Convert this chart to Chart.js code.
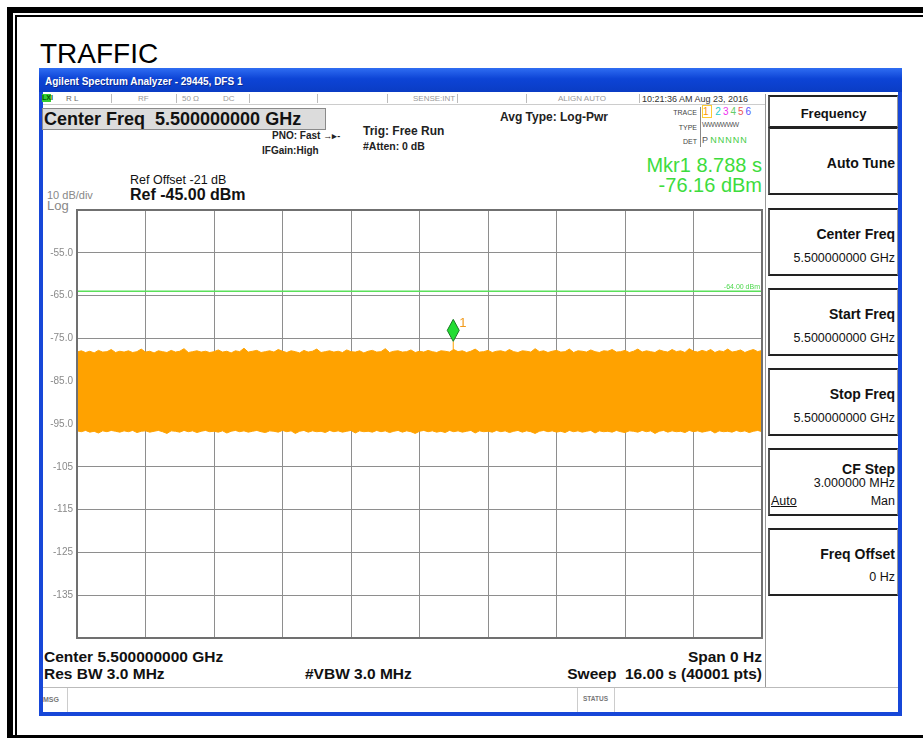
<!DOCTYPE html>
<html>
<head>
<meta charset="utf-8">
<script src="https://cdn.jsdelivr.net/npm/chart.js@4.4.1/dist/chart.umd.min.js"></script>
<style>
  html,body{margin:0;padding:0;background:#fff;width:923px;height:738px;overflow:hidden;font-family:Arial,"Liberation Sans",sans-serif;}
  .a{position:absolute;line-height:1;white-space:nowrap;}
  #frameO{position:absolute;left:7px;top:7px;width:940px;height:722px;border:6px solid #000;}
  #frameI{position:absolute;left:15px;top:15px;width:930px;height:740px;border-left:2px solid #000;border-top:2px solid #000;}
  #win{position:absolute;left:39px;top:68px;width:863px;height:648px;background:#1747d8;}
  #inner{position:absolute;left:43px;top:92px;width:855px;height:620px;background:#fff;}
  #title{position:absolute;left:39px;top:68px;width:863px;height:24px;background:linear-gradient(#2f6df2,#0d44d6 45%,#0a3cc4);}
  .cell{position:absolute;top:94px;height:9px;border-right:1px solid #bbb;}
  .st{font-size:8px;color:#999;}
  .btn{position:absolute;left:768px;width:127px;border-top:2px solid #222;border-bottom:2px solid #222;border-left:2px solid #555;border-right:1px solid #999;background:#fff;}
  .bt{position:absolute;right:2px;font-weight:bold;font-size:14px;line-height:1;color:#111;white-space:nowrap;}
  .bv{position:absolute;right:2px;font-size:12.5px;line-height:1;color:#111;white-space:nowrap;}
  #chartBox{position:absolute;left:35px;top:200px;width:732px;height:448px;}
</style>
</head>
<body>
<div id="frameO"></div>
<div id="frameI"></div>
<div class="a" style="left:40px;top:40px;font-size:28px;color:#000;">TRAFFIC</div>

<div id="win"></div>
<div id="inner"></div>
<div id="title"></div>
<div class="a" style="left:45px;top:77px;font-size:10px;font-weight:bold;color:#fff;text-shadow:1px 1px 0 #0a2a90;">Agilent Spectrum Analyzer - 29445, DFS 1</div>

<!-- status row -->
<div style="position:absolute;left:43px;top:93px;width:722px;height:11px;border-bottom:1px solid #ccc;"></div>
<div class="a" style="left:42px;top:94px;width:9px;height:8px;background:#3c3;font-size:7px;font-weight:bold;color:#050;">LXI</div>
<div class="a st" style="left:66px;top:95px;color:#666;">R L</div>
<div class="cell" style="left:111px;"></div>
<div class="a st" style="left:138px;top:95px;">RF</div>
<div class="cell" style="left:176px;"></div>
<div class="a st" style="left:182px;top:95px;">50 Ω</div>
<div class="a st" style="left:223px;top:95px;">DC</div>
<div class="cell" style="left:249px;"></div>
<div class="cell" style="left:317px;"></div>
<div class="cell" style="left:387px;"></div>
<div class="a st" style="left:413px;top:95px;">SENSE:INT</div>
<div class="cell" style="left:457px;"></div>
<div class="cell" style="left:526px;"></div>
<div class="a st" style="left:558px;top:95px;">ALIGN AUTO</div>
<div class="cell" style="left:639px;"></div>
<div class="a" style="left:642px;top:95px;font-size:9px;color:#333;">10:21:36 AM Aug 23, 2016</div>

<!-- header texts -->
<div style="position:absolute;left:42px;top:108px;width:282px;height:20px;background:#dcdcdc;border:1px solid #8a8a8a;"></div>
<div class="a" style="left:44px;top:110px;font-size:18px;font-weight:bold;color:#111;">Center Freq&nbsp;&nbsp;5.500000000 GHz</div>
<div class="a" style="left:272px;top:131px;font-size:10px;font-weight:bold;color:#222;">PNO: Fast <span style="font-size:9px">→▸-</span></div>
<div class="a" style="left:262px;top:146px;font-size:10px;font-weight:bold;color:#222;">IFGain:High</div>
<div class="a" style="left:363px;top:125px;font-size:12px;font-weight:bold;color:#222;">Trig: Free Run</div>
<div class="a" style="left:363px;top:141px;font-size:10.5px;font-weight:bold;color:#222;">#Atten: 0 dB</div>
<div class="a" style="left:500px;top:111px;font-size:12px;font-weight:bold;color:#222;">Avg Type: Log-Pwr</div>

<div class="a" style="right:226px;top:109px;font-size:7px;color:#444;">TRACE</div>
<div class="a" style="right:226px;top:124px;font-size:7px;color:#444;">TYPE</div>
<div class="a" style="right:226px;top:138px;font-size:7px;color:#444;">DET</div>
<div style="position:absolute;left:700px;top:107px;width:1px;height:40px;background:#888;"></div>
<div class="a" style="left:703px;top:107px;font-size:10px;letter-spacing:2px;"><span style="color:#f90;outline:1px solid #fc3;">1</span> <span style="color:#2cc">2</span><span style="color:#e3e">3</span><span style="color:#6c6">4</span><span style="color:#e55">5</span><span style="color:#55f">6</span></div>
<div class="a" style="left:702px;top:121px;font-size:7px;color:#555;letter-spacing:-0.5px;">WWWWWW</div>
<div class="a" style="left:702px;top:136px;font-size:9px;color:#555;">P <span style="color:#4c4;letter-spacing:1px;">NNNNN</span></div>

<div class="a" style="right:161px;top:155px;font-size:20px;color:#3ddc3d;">Mkr1 8.788 s</div>
<div class="a" style="right:161px;top:175px;font-size:20px;color:#3ddc3d;">-76.16 dBm</div>

<div class="a" style="left:130px;top:174px;font-size:12.5px;color:#111;">Ref Offset -21 dB</div>
<div class="a" style="left:130px;top:187px;font-size:16px;font-weight:bold;color:#111;">Ref -45.00 dBm</div>
<div class="a" style="left:47px;top:190px;font-size:11px;color:#888;">10 dB/div</div>
<div class="a" style="left:47px;top:199px;font-size:13px;color:#888;">Log</div>

<!-- right panel -->
<div style="position:absolute;left:765px;top:94px;width:1px;height:594px;background:#999;"></div>
<div class="btn" style="top:95px;height:29px;"><div class="a" style="left:0;right:0;top:10px;text-align:center;font-size:13px;font-weight:bold;color:#111;">Frequency</div></div>
<div class="btn" style="top:127px;height:64px;"><div class="bt" style="top:27px;">Auto Tune</div></div>
<div class="btn" style="top:208px;height:64px;"><div class="bt" style="top:17px;">Center Freq</div><div class="bv" style="top:42px;">5.500000000 GHz</div></div>
<div class="btn" style="top:288px;height:64px;"><div class="bt" style="top:17px;">Start Freq</div><div class="bv" style="top:42px;">5.500000000 GHz</div></div>
<div class="btn" style="top:368px;height:64px;"><div class="bt" style="top:17px;">Stop Freq</div><div class="bv" style="top:42px;">5.500000000 GHz</div></div>
<div class="btn" style="top:448px;height:64px;"><div class="bt" style="top:12px;">CF Step</div><div class="bv" style="top:27px;">3.000000 MHz</div><div class="bv" style="top:45px;">Man</div><div class="bv" style="left:1px;right:auto;top:45px;text-decoration:underline;">Auto</div></div>
<div class="btn" style="top:528px;height:64px;"><div class="bt" style="top:17px;">Freq Offset</div><div class="bv" style="top:41px;">0 Hz</div></div>

<!-- bottom texts -->
<div class="a" style="left:44px;top:649px;font-size:15.5px;font-weight:bold;color:#111;">Center 5.500000000 GHz</div>
<div class="a" style="left:44px;top:666px;font-size:15.5px;font-weight:bold;color:#111;">Res BW 3.0 MHz</div>
<div class="a" style="left:305px;top:666px;font-size:15.5px;font-weight:bold;color:#111;">#VBW 3.0 MHz</div>
<div class="a" style="right:161px;top:649px;font-size:15.5px;font-weight:bold;color:#111;">Span 0 Hz</div>
<div class="a" style="right:161px;top:666px;font-size:15.5px;font-weight:bold;color:#111;">Sweep&nbsp;&nbsp;16.00 s (40001 pts)</div>

<div style="position:absolute;left:43px;top:687px;width:855px;height:1px;background:#bbb;"></div>
<div class="a" style="left:43px;top:696px;font-size:7px;font-weight:bold;color:#777;">MSG</div>
<div style="position:absolute;left:67px;top:688px;width:1px;height:24px;background:#ccc;"></div>
<div style="position:absolute;left:577px;top:688px;width:1px;height:24px;background:#ccc;"></div>
<div style="position:absolute;left:614px;top:688px;width:1px;height:24px;background:#ccc;"></div>
<div class="a" style="left:583px;top:696px;font-size:6.5px;font-weight:bold;color:#777;">STATUS</div>

<div id="chartBox"><canvas id="c" width="732" height="448"></canvas></div>

<script>
// ---- data ----
const sweepSeconds = 16;               // Sweep 16.00 s, Span 0 Hz
const refLevel = -45;                  // Ref -45.00 dBm
const bottomLevel = -145;              // 10 dB/div, 10 divisions
const yTickValues = [-55, -65, -75, -85, -95, -105, -115, -125, -135];
const yTickLabels = ['-55.0', '-65.0', '-75.0', '-85.0', '-95.0', '-105', '-115', '-125', '-135'];
const limitLevel = -64;                // display line -64.00 dBm
const limitLabel = '-64.00 dBm';
const markerTime = 8.788;              // Mkr1 8.788 s
const markerLevel = -76.16;            // -76.16 dBm
const markerName = '1';

// upper envelope of trace 1 (dBm), sampled every 0.1 s
const traceUpper = [
-78.2,-77.9,-78.3,-78.0,-78.4,-77.8,-78.2,-78.1,-77.6,-78.3,
-78.0,-78.2,-77.9,-78.3,-78.1,-77.5,-78.2,-78.0,-78.4,-77.9,
-78.1,-78.3,-77.8,-78.2,-78.0,-77.4,-78.3,-78.1,-77.9,-78.2,
-78.0,-78.3,-78.1,-77.7,-78.2,-78.0,-78.4,-77.9,-78.1,-77.3,
-78.2,-78.0,-77.8,-78.3,-78.1,-77.9,-78.2,-77.6,-78.0,-78.3,
-77.9,-78.1,-78.4,-77.8,-78.2,-78.0,-77.5,-78.3,-78.1,-77.9,
-78.2,-78.0,-78.3,-77.7,-78.1,-78.2,-77.9,-78.4,-78.0,-77.8,
-78.2,-78.1,-77.4,-78.3,-78.0,-77.9,-78.2,-78.1,-77.7,-78.3,
-78.0,-78.2,-77.8,-78.1,-78.3,-77.9,-78.0,-78.2,-77.6,-78.1,
-77.9,-78.3,-78.0,-77.5,-78.2,-78.1,-77.8,-78.3,-78.0,-77.9,
-78.2,-77.6,-78.1,-78.3,-77.9,-78.0,-78.2,-77.4,-78.1,-77.9,
-78.3,-78.0,-77.8,-78.2,-78.1,-77.5,-78.3,-77.9,-78.0,-78.2,
-77.7,-78.1,-78.3,-77.9,-78.0,-77.6,-78.2,-78.1,-77.8,-78.3,
-78.0,-77.5,-78.2,-77.9,-78.1,-78.3,-77.7,-78.0,-78.2,-77.6,
-78.1,-77.9,-78.3,-77.4,-78.0,-78.2,-77.8,-78.1,-77.6,-78.3,
-77.9,-78.1,-77.5,-78.2,-78.0,-77.7,-78.3,-77.9,-77.6,-78.1,
-77.8];

// lower envelope of trace 1 (dBm), sampled every 0.1 s
const traceLower = [
-96.6,-96.8,-96.5,-96.9,-96.7,-97.1,-96.6,-96.8,-96.5,-96.7,
-96.9,-96.6,-96.8,-96.5,-97.0,-96.7,-96.6,-96.9,-96.7,-96.5,
-96.8,-97.2,-96.6,-96.7,-96.9,-96.5,-96.8,-96.6,-97.0,-96.7,
-96.5,-96.8,-96.7,-96.9,-96.6,-97.1,-96.7,-96.5,-96.8,-96.6,
-96.9,-96.7,-96.5,-96.8,-97.0,-96.6,-96.7,-96.9,-96.5,-96.8,
-96.6,-97.2,-96.7,-96.5,-96.9,-96.6,-96.8,-96.7,-97.0,-96.5,
-96.8,-96.6,-96.9,-96.7,-96.5,-97.1,-96.6,-96.8,-96.7,-96.9,
-96.5,-96.8,-96.6,-97.0,-96.7,-96.5,-96.9,-96.6,-96.8,-97.2,
-96.7,-96.5,-96.8,-96.6,-96.9,-96.7,-97.0,-96.5,-96.8,-96.6,
-96.9,-96.7,-96.5,-97.1,-96.6,-96.8,-96.7,-96.9,-96.5,-96.8,
-96.6,-97.0,-96.7,-96.5,-96.9,-96.6,-96.8,-97.2,-96.7,-96.5,
-96.8,-96.6,-96.9,-96.7,-97.0,-96.5,-96.8,-96.6,-96.9,-96.7,
-96.5,-97.1,-96.6,-96.8,-96.7,-96.9,-96.5,-96.8,-97.0,-96.6,
-96.7,-96.9,-96.5,-96.8,-96.6,-97.2,-96.7,-96.5,-96.9,-96.6,
-96.8,-96.7,-97.0,-96.5,-96.8,-96.6,-96.9,-96.7,-96.5,-97.1,
-96.6,-96.8,-96.7,-96.9,-96.5,-96.8,-96.6,-97.0,-96.7,-96.5,
-96.8];

// ---- build chart data ----
const toPoints = arr => arr.map((v, i) => ({x: i * sweepSeconds / (arr.length - 1), y: v}));
const TRACE = '#ffa200';
const GRID = '#8e8e8e';

const plotDecor = {
  id: 'plotDecor',
  afterDatasetsDraw(chart) {
    const {ctx, chartArea: a, scales} = chart;
    ctx.save();
    // display line label
    ctx.fillStyle = '#4cd84c';
    ctx.font = '7px Arial, "Liberation Sans", sans-serif';
    ctx.textAlign = 'right';
    ctx.textBaseline = 'bottom';
    ctx.fillText(limitLabel, a.right - 2, scales.y.getPixelForValue(limitLevel) - 1);
    // marker 1 diamond with its stem down to the trace
    const p = chart.getDatasetMeta(3).data[0];
    const tipY = p.y - 2;
    ctx.strokeStyle = TRACE; ctx.lineWidth = 1;
    ctx.beginPath(); ctx.moveTo(p.x, p.y + 7); ctx.lineTo(p.x, tipY); ctx.stroke();
    ctx.beginPath();
    ctx.moveTo(p.x, tipY);
    ctx.lineTo(p.x + 6, tipY - 11);
    ctx.lineTo(p.x, tipY - 22);
    ctx.lineTo(p.x - 6, tipY - 11);
    ctx.closePath();
    ctx.fillStyle = '#22dd33';
    ctx.fill();
    ctx.strokeStyle = '#1b7a25';
    ctx.stroke();
    ctx.fillStyle = '#f29a1a';
    ctx.font = '13px Arial, "Liberation Sans", sans-serif';
    ctx.textAlign = 'left';
    ctx.textBaseline = 'alphabetic';
    ctx.fillText(markerName, p.x + 6, tipY - 14);
    // plot frame
    ctx.strokeStyle = '#707070';
    ctx.lineWidth = 2;
    ctx.strokeRect(a.left, a.top, a.right - a.left, a.bottom - a.top);
    ctx.restore();
  }
};

new Chart(document.getElementById('c'), {
  type: 'line',
  data: {
    datasets: [
      {label: 'Trace 1 max', data: toPoints(traceUpper), borderColor: TRACE, borderWidth: 1, pointRadius: 0, fill: false, tension: 0, order: 3},
      {label: 'Trace 1 min', data: toPoints(traceLower), borderColor: TRACE, borderWidth: 1, pointRadius: 0, fill: '-1', backgroundColor: TRACE, tension: 0, order: 3},
      {label: 'Display line', data: [{x: 0, y: limitLevel}, {x: sweepSeconds, y: limitLevel}], borderColor: '#5ae05a', borderWidth: 1.5, pointRadius: 0, fill: false, order: 1},
      {label: 'Mkr1', data: [{x: markerTime, y: markerLevel}], showLine: false, pointRadius: 0, order: 0}
    ]
  },
  options: {
    responsive: false,
    animation: false,
    devicePixelRatio: 1,
    layout: {padding: {top: 8, right: 5, bottom: 5, left: 0}},
    plugins: {legend: {display: false}, tooltip: {enabled: false}},
    scales: {
      x: {
        type: 'linear', min: 0, max: sweepSeconds,
        ticks: {display: false, count: 11},
        grid: {color: GRID, lineWidth: 1, drawTicks: false},
        border: {display: false},
        afterFit(s) { s.height = 0; }
      },
      y: {
        min: bottomLevel, max: refLevel,
        ticks: {
          stepSize: 10, color: '#8a8a8a', padding: 4,
          font: {family: 'Arial, "Liberation Sans", sans-serif', size: 10},
          callback: v => { const i = yTickValues.indexOf(v); return i >= 0 ? yTickLabels[i] : ''; }
        },
        grid: {color: GRID, lineWidth: 1, drawTicks: false},
        border: {display: false},
        afterFit(s) { s.width = 42; }
      }
    }
  },
  plugins: [plotDecor]
});
</script>
</body>
</html>
